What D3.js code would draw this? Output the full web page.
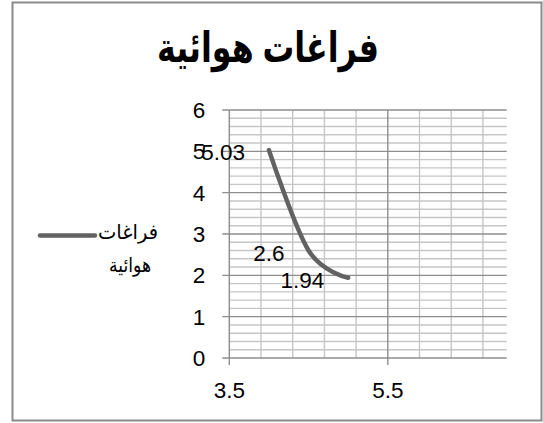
<!DOCTYPE html>
<html>
<head>
<meta charset="utf-8">
<script src="https://cdn.jsdelivr.net/npm/d3@7"></script>
<style>
  html, body { margin: 0; padding: 0; background: #fff; }
  svg { display: block; }
  text { font-family: "Liberation Sans", Arial, "DejaVu Sans", sans-serif; fill: #000; }
</style>
</head>
<body>
<svg id="chart" width="543" height="423"></svg>
<script>
// Series data
const legendLines = ["فراغات", "هوائية"];
const chartTitle = "فراغات هوائية";
const xValues = [4.0, 4.5, 5.0];
const yValues = [5.03, 2.6, 1.94];
const valueLabels = ["5.03", "2.6", "1.94"];

// Axis settings
const xDomain = [3.5, 7.0];
const xMajorTicks = [3.5, 5.5];
const xTickLabels = ["3.5", "5.5"];
const xMinorStep = 0.4;
const yDomain = [0, 6];
const yMajorTicks = [0, 1, 2, 3, 4, 5, 6];
const yTickLabels = ["0", "1", "2", "3", "4", "5", "6"];
const yMinorStep = 0.2;

const numFont = 22.5;

const svg = d3.select("#chart");

// chart frame
svg.append("rect")
  .attr("x", 12.5).attr("y", 2.5)
  .attr("width", 529).attr("height", 418)
  .attr("fill", "#fff")
  .attr("stroke", "#8a8a8a")
  .attr("stroke-width", 2);

const plot = { left: 229.3, right: 506.7, top: 110, bottom: 358 };

const x = d3.scaleLinear().domain(xDomain).range([plot.left, plot.right]);
const y = d3.scaleLinear().domain(yDomain).range([plot.bottom, plot.top]);

const grid = svg.append("g");

// horizontal minor gridlines
const yMinor = d3.range(yDomain[0], yDomain[1] + 1e-9, yMinorStep)
  .filter(v => Math.abs(v - Math.round(v)) > 1e-6);
grid.selectAll("line.hmin").data(yMinor).join("line")
  .attr("x1", plot.left).attr("x2", plot.right)
  .attr("y1", d => y(d)).attr("y2", d => y(d))
  .attr("stroke", "#c6c6c6").attr("stroke-width", 1.4);

// vertical minor gridlines
const xMinor = d3.range(xDomain[0] + xMinorStep, xDomain[1], xMinorStep)
  .filter(v => !xMajorTicks.some(t => Math.abs(t - v) < 1e-6));
grid.selectAll("line.vmin").data(xMinor).join("line")
  .attr("y1", plot.top).attr("y2", plot.bottom)
  .attr("x1", d => x(d)).attr("x2", d => x(d))
  .attr("stroke", "#c6c6c6").attr("stroke-width", 1.4);

// major horizontal gridlines with left tick marks
grid.selectAll("line.hmaj").data(yMajorTicks.filter(v => v > 0)).join("line")
  .attr("x1", plot.left - 7).attr("x2", plot.right)
  .attr("y1", d => y(d)).attr("y2", d => y(d))
  .attr("stroke", "#8e8e8e").attr("stroke-width", 1.4);

// major vertical gridlines (excluding axis)
grid.selectAll("line.vmaj").data(xMajorTicks.filter(v => v > xDomain[0])).join("line")
  .attr("y1", plot.top).attr("y2", plot.bottom + 7)
  .attr("x1", d => x(d)).attr("x2", d => x(d))
  .attr("stroke", "#8e8e8e").attr("stroke-width", 1.4);

// axis lines
svg.append("line")
  .attr("x1", plot.left).attr("x2", plot.left)
  .attr("y1", plot.top).attr("y2", plot.bottom + 7)
  .attr("stroke", "#8e8e8e").attr("stroke-width", 1.4);
svg.append("line")
  .attr("x1", plot.left - 7).attr("x2", plot.right)
  .attr("y1", plot.bottom).attr("y2", plot.bottom)
  .attr("stroke", "#8e8e8e").attr("stroke-width", 1.4);

// y tick labels
svg.selectAll("text.ylab").data(yMajorTicks).join("text")
  .attr("x", plot.left - 24)
  .attr("y", d => y(d))
  .attr("dy", "0.36em")
  .attr("text-anchor", "end")
  .attr("font-size", numFont)
  .text((d, i) => yTickLabels[i]);

// x tick labels
svg.selectAll("text.xlab").data(xMajorTicks).join("text")
  .attr("x", d => x(d))
  .attr("y", plot.bottom + 32)
  .attr("dy", "0.36em")
  .attr("text-anchor", "middle")
  .attr("font-size", numFont)
  .text((d, i) => xTickLabels[i]);

// smoothed series line
const pts = xValues.map((v, i) => [v, yValues[i]]);
const line = d3.line()
  .x(d => x(d[0])).y(d => y(d[1]))
  .curve(d3.curveCardinal.tension(0));
svg.append("path")
  .attr("d", line(pts))
  .attr("fill", "none")
  .attr("stroke", "#626262")
  .attr("stroke-width", 4.5)
  .attr("stroke-linecap", "round")
  .attr("stroke-linejoin", "round");

// value labels, placed to the left of each point
svg.selectAll("text.val").data(pts).join("text")
  .attr("x", d => x(d[0]) - 24)
  .attr("y", d => y(d[1]) + 2)
  .attr("dy", "0.36em")
  .attr("text-anchor", "end")
  .attr("font-size", numFont)
  .text((d, i) => valueLabels[i]);

// title
svg.append("text")
  .attr("x", 268).attr("y", 47)
  .attr("dy", "0.36em")
  .attr("text-anchor", "middle")
  .attr("font-size", 42)
  .attr("font-weight", "bold")
  .attr("textLength", 222)
  .attr("lengthAdjust", "spacingAndGlyphs")
  .text(chartTitle);

// legend
svg.append("line")
  .attr("x1", 40).attr("x2", 95)
  .attr("y1", 235.5).attr("y2", 235.5)
  .attr("stroke", "#626262")
  .attr("stroke-width", 4.5)
  .attr("stroke-linecap", "round");
svg.selectAll("text.leg").data(legendLines).join("text")
  .attr("x", (d, i) => i === 0 ? 128 : 130)
  .attr("y", (d, i) => 232 + i * 33)
  .attr("dy", "0.36em")
  .attr("text-anchor", "middle")
  .attr("font-size", 20)
  .attr("textLength", (d, i) => i === 0 ? 60 : 42)
  .attr("lengthAdjust", "spacingAndGlyphs")
  .text(d => d);
</script>
</body>
</html>
